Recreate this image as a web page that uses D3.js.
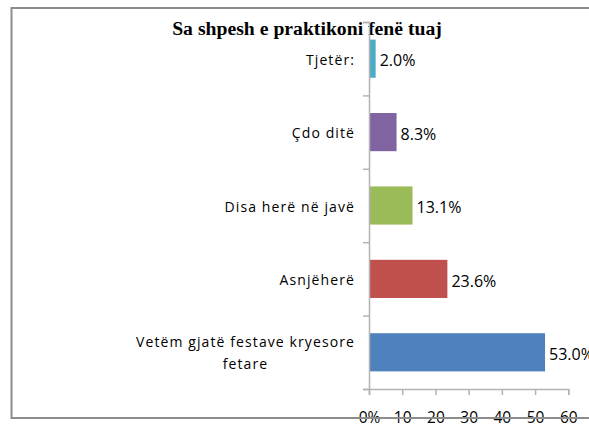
<!DOCTYPE html>
<html>
<head>
<meta charset="utf-8">
<script src="https://cdn.jsdelivr.net/npm/d3@7"></script>
<style>
  body { margin: 0; background: #fff; }
  .cat { font-family: "Open Sans", sans-serif; font-size: 14px; letter-spacing: 1.1px; fill: #000; }
  .val { font-family: "Open Sans", sans-serif; font-size: 16px; fill: #000; }
  .xax text { font-family: "Open Sans", sans-serif; font-size: 15.5px; fill: #000; }
</style>
</head>
<body>
<script>
// data, top to bottom as drawn
var categories = ["Tjetër:", "Çdo ditë", "Disa herë në javë", "Asnjëherë", "Vetëm gjatë festave kryesore fetare"];
var values = [2.0, 8.3, 13.1, 23.6, 53.0];
var barColors = ["#4BACC6", "#8064A2", "#9BBB59", "#C0504D", "#4F81BD"];
var xTicks = [0, 10, 20, 30, 40, 50, 60];
var xTickLabels = ["0%", "10", "20", "30", "40", "50", "60"];

var svgWidth = 589, svgHeight = 424;
var plotLeft = 369, plotRight = 568.3, plotTop = 22, plotBottom = 389;

var svg = d3.select("body").append("svg")
  .attr("width", svgWidth)
  .attr("height", svgHeight);

// title
svg.append("text")
  .attr("x", 307).attr("y", 35)
  .attr("text-anchor", "middle")
  .style("font-family", "'Liberation Serif', serif")
  .style("font-weight", "bold")
  .style("font-size", "19.7px")
  .text("Sa shpesh e praktikoni fenë tuaj");

var x = d3.scaleLinear().domain([0, 60]).range([plotLeft, plotRight]);
var y = d3.scaleBand().domain(categories).range([plotTop, plotBottom])
  .paddingInner(0.48).paddingOuter(0.24);
var yEdges = d3.scaleLinear().domain([0, categories.length]).range([plotTop, plotBottom]);

// bars
svg.selectAll("rect.bar")
  .data(values)
  .enter().append("rect")
  .attr("class", "bar")
  .attr("x", x(0))
  .attr("y", (d, i) => y(categories[i]))
  .attr("width", d => x(d) - x(0))
  .attr("height", y.bandwidth())
  .attr("fill", (d, i) => barColors[i]);

// value labels
svg.selectAll("text.val")
  .data(values)
  .enter().append("text")
  .attr("class", "val")
  .attr("x", d => x(d) + 4)
  .attr("y", (d, i) => y(categories[i]) + y.bandwidth() / 2 + 2)
  .attr("dy", "0.35em")
  .text(d => d.toFixed(1) + "%");

// y axis: line + ticks between categories
var yAxis = svg.append("g")
  .attr("transform", `translate(${plotLeft},0)`)
  .call(d3.axisLeft(yEdges).tickValues(d3.range(categories.length + 1)).tickSize(6).tickFormat(""));
yAxis.select(".domain").attr("stroke", "#b3b3b3").attr("stroke-width", 1.5);
yAxis.selectAll(".tick line").attr("stroke", "#b3b3b3").attr("stroke-width", 1.5);

// category labels (wrapped like the original)
var catLines = [["Tjetër:"], ["Çdo ditë"], ["Disa herë në javë"], ["Asnjëherë"], ["Vetëm gjatë festave kryesore", "fetare"]];
catLines.forEach(function(lines, i) {
  var cy = y(categories[i]) + y.bandwidth() / 2 + 1;
  var t = svg.append("text").attr("class", "cat").attr("y", cy);
  var lh = 22;
  lines.forEach(function(line, j) {
    t.append("tspan")
      .attr("x", 355)
      .attr("dy", j === 0 ? ((-(lines.length - 1) * lh / 2) + 5) : lh)
      .text(line);
  });
  if (lines.length > 1) {
    // centre lines on the widest one, right edge at 355
    var w = t.node().getBBox().width;
    t.attr("text-anchor", "middle");
    t.selectAll("tspan").attr("x", 355 - w / 2);
  } else {
    t.attr("text-anchor", "end");
  }
});

// x axis
var xAxis = svg.append("g")
  .attr("class", "xax")
  .attr("transform", `translate(0,${plotBottom})`)
  .call(d3.axisBottom(x).tickValues(xTicks).tickSize(6).tickPadding(17)
    .tickFormat((d, i) => xTickLabels[i]));
xAxis.select(".domain").attr("stroke", "#b3b3b3").attr("stroke-width", 1.5);
xAxis.selectAll(".tick line").attr("stroke", "#b3b3b3").attr("stroke-width", 1.5);

// chart border (right side runs off the page)
svg.append("path")
  .attr("d", "M600,8 L11.5,8 L11.5,418 L600,418")
  .attr("fill", "none")
  .attr("stroke", "#8c8c8c")
  .attr("stroke-width", 2);
</script>
</body>
</html>
